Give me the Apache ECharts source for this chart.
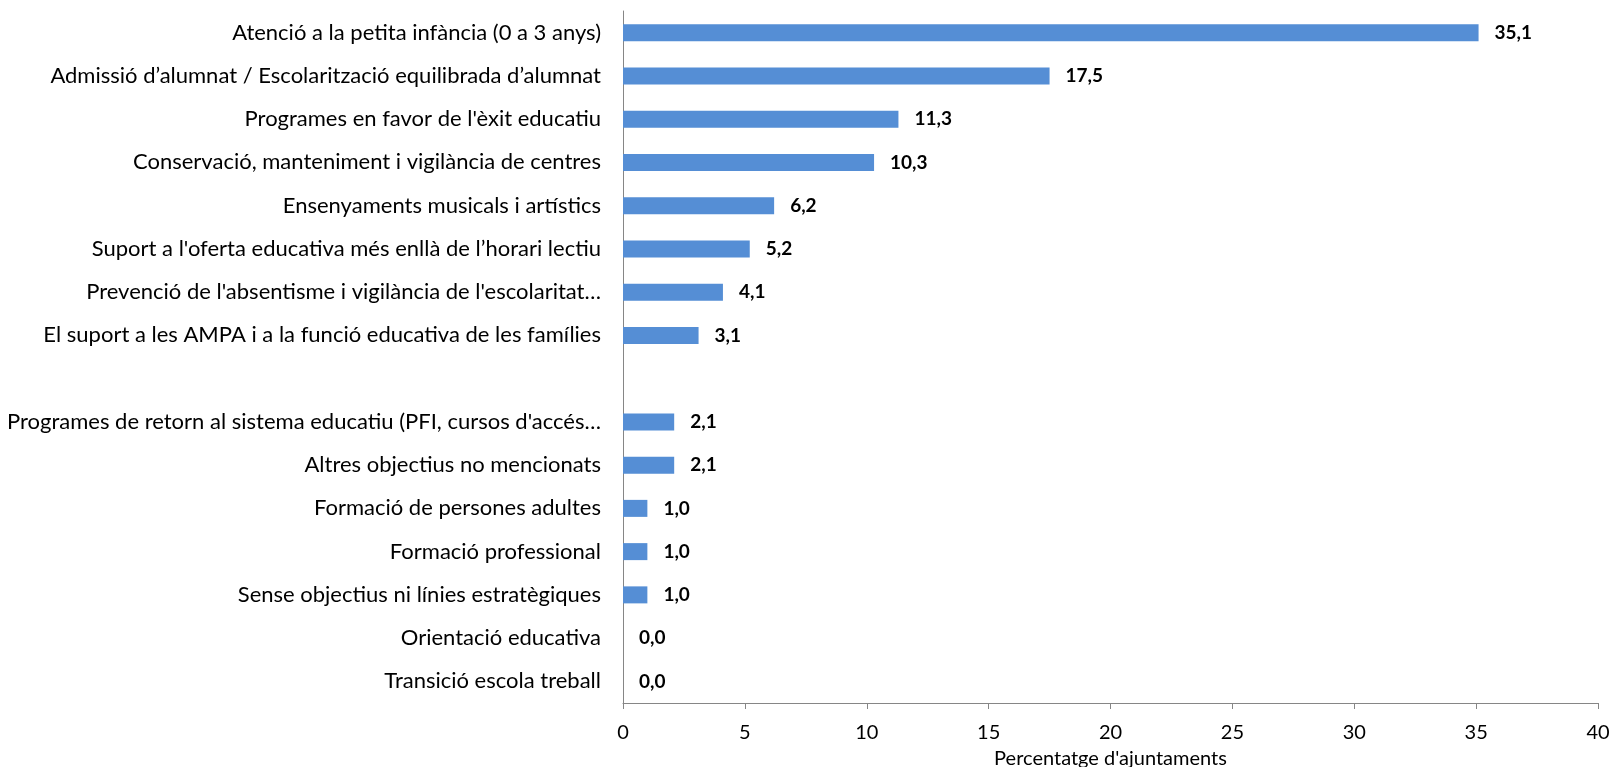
<!DOCTYPE html>
<html>
<head>
<meta charset="utf-8">
<script src="https://cdn.jsdelivr.net/npm/echarts@6/dist/echarts.min.js"></script>
<style>
  html, body { margin: 0; padding: 0; background: #fff; }
  #main { width: 1612px; height: 767px; }
</style>
</head>
<body>
<div id="main"></div>
<script>
// categories, top to bottom ('' is the empty slot in the middle)
var categories = [
  'Atenció a la petita infància (0 a 3 anys)',
  'Admissió d’alumnat / Escolarització equilibrada d’alumnat',
  "Programes en favor de l'èxit educatiu",
  'Conservació, manteniment i vigilància de centres',
  'Ensenyaments musicals i artístics',
  "Suport a l'oferta educativa més enllà de l’horari lectiu",
  "Prevenció de l'absentisme i vigilància de l'escolaritat…",
  'El suport a les AMPA i a la funció educativa de les famílies',
  '',
  "Programes de retorn al sistema educatiu (PFI, cursos d'accés…",
  'Altres objectius no mencionats',
  'Formació de persones adultes',
  'Formació professional',
  'Sense objectius ni línies estratègiques',
  'Orientació educativa',
  'Transició escola treball'
];
var values = [35.1, 17.5, 11.3, 10.3, 6.2, 5.2, 4.1, 3.1, '-', 2.1, 2.1, 1.0, 1.0, 1.0, 0.0, 0.0];
var axisName = "Percentatge d'ajuntaments";

var font = 'Lato, "Open Sans", sans-serif';
var myChart = echarts.init(document.getElementById('main'));

var option = {
  backgroundColor: '#fff',
  animation: false,
  grid: { left: 623, right: 14, top: 11, bottom: 64, containLabel: false, outerBoundsMode: 'none' },
  xAxis: {
    type: 'value',
    min: 0,
    max: 40,
    interval: 5,
    name: axisName,
    nameLocation: 'middle',
    nameGap: 46,
    nameTextStyle: { fontFamily: font, fontSize: 20, color: '#000' },
    axisLine: { show: true, lineStyle: { color: '#868686', width: 1 } },
    axisTick: { show: true, length: 6, lineStyle: { color: '#868686' } },
    axisLabel: { fontFamily: font, fontSize: 20, color: '#000', margin: 20 },
    splitLine: { show: false }
  },
  yAxis: {
    type: 'category',
    inverse: true,
    data: categories,
    axisLine: { show: true, lineStyle: { color: '#868686', width: 1 } },
    axisTick: { show: false },
    axisLabel: { fontFamily: font, fontSize: 22, color: '#000', margin: 22 }
  },
  series: [{
    type: 'bar',
    data: values,
    barWidth: 17,
    itemStyle: { color: '#558ED5' },
    label: {
      show: true,
      position: 'right',
      distance: 16,
      fontFamily: font,
      fontSize: 19,
      fontWeight: 'bold',
      color: '#000',
      formatter: function (p) {
        return Number(p.value).toFixed(1).replace('.', ',');
      }
    }
  }]
};

myChart.setOption(option);
</script>
</body>
</html>
